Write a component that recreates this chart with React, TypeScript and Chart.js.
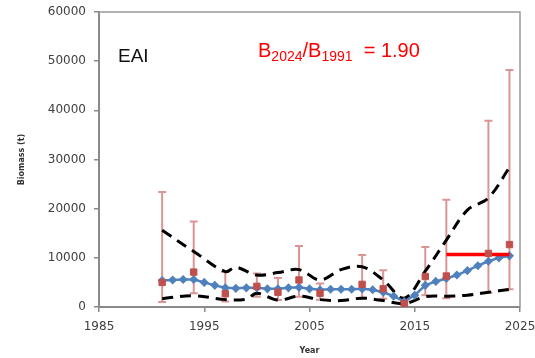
import { useEffect, useRef } from "react";
import { Chart, registerables } from "chart.js";

Chart.register(...registerables);

// Model biomass trajectory (t), one estimate per year
const modelYears = [
  1991, 1992, 1993, 1994, 1995, 1996, 1997, 1998, 1999, 2000, 2001, 2002,
  2003, 2004, 2005, 2006, 2007, 2008, 2009, 2010, 2011, 2012, 2013, 2014,
  2015, 2016, 2017, 2018, 2019, 2020, 2021, 2022, 2023, 2024,
];
const modelBiomass = [
  5400, 5500, 5600, 5600, 5000, 4400, 3900, 3800, 3900, 3900, 3700, 3700,
  3900, 4000, 3700, 3500, 3600, 3600, 3600, 3700, 3500, 3000, 2200, 1100,
  2400, 4400, 5200, 5800, 6500, 7400, 8400, 9300, 10000, 10400,
];

// Confidence bounds around the model trajectory
const upperYears = [1991, 1994, 1997, 1998, 2000, 2002, 2004, 2006, 2008, 2010, 2012, 2014, 2016, 2018, 2020, 2022, 2024];
const upperBiomass = [15600, 11300, 7200, 8100, 6500, 7000, 7600, 5500, 7600, 8200, 5500, 1800, 7300, 13600, 19700, 22200, 28400];
const lowerYears = [1991, 1994, 1997, 1999, 2000, 2002, 2004, 2006, 2008, 2010, 2012, 2014, 2016, 2018, 2020, 2022, 2024];
const lowerBiomass = [1700, 2300, 1500, 1600, 2800, 1400, 2200, 1500, 1300, 1800, 1300, 700, 2100, 2200, 2400, 3000, 3600];

// Survey biomass index with error bars
const surveyYears = [1991, 1994, 1997, 2000, 2002, 2004, 2006, 2010, 2012, 2014, 2016, 2018, 2022, 2024];
const surveyBiomass = [5000, 7100, 2700, 4200, 3000, 5500, 2800, 4600, 3700, 750, 6200, 6300, 10900, 12700];
const surveyLow = [1000, 2800, 1100, 2100, 1400, 2100, 1500, 1900, 1700, 500, 2400, 1800, 2900, 3600];
const surveyHigh = [23400, 17400, 7100, 6800, 5900, 12400, 4800, 10600, 7500, 1000, 12200, 21800, 37900, 48200];

// Recent survey mean
const recentYears = [2018, 2024];
const recentMean = 10700;

const areaLabel = "EAI";
const ratioParts = ["B", "2024", "/B", "1991", "  = 1.90"];

const xMin = 1985;
const xMax = 2025;
const xStep = 10;
const yMin = 0;
const yMax = 60000;
const yStep = 10000;

const errorBars = {
  id: "errorBars",
  beforeDatasetsDraw(chart: any) {
    const { ctx, scales } = chart;
    const x = scales.x;
    const y = scales.y;
    ctx.save();
    ctx.strokeStyle = "#d99694";
    ctx.lineWidth = 2;
    surveyYears.forEach((yr, i) => {
      const px = x.getPixelForValue(yr);
      const top = y.getPixelForValue(surveyHigh[i]);
      const bot = y.getPixelForValue(surveyLow[i]);
      ctx.beginPath();
      ctx.moveTo(px, top);
      ctx.lineTo(px, bot);
      ctx.moveTo(px - 4, top);
      ctx.lineTo(px + 4, top);
      ctx.moveTo(px - 4, bot);
      ctx.lineTo(px + 4, bot);
      ctx.stroke();
    });
    ctx.restore();
  },
};

const frameAndLabels = {
  id: "frameAndLabels",
  afterDraw(chart: any) {
    const { ctx, chartArea } = chart;
    ctx.save();
    // top and right edges of the plot box
    ctx.strokeStyle = "#9a9a9a";
    ctx.lineWidth = 1.5;
    ctx.beginPath();
    ctx.moveTo(chartArea.left, chartArea.top);
    ctx.lineTo(chartArea.right, chartArea.top);
    ctx.lineTo(chartArea.right, chartArea.bottom);
    ctx.stroke();

    // stock area label
    ctx.fillStyle = "#111111";
    ctx.font = "19px 'Liberation Sans', Arial, sans-serif";
    ctx.textBaseline = "alphabetic";
    ctx.textAlign = "left";
    ctx.fillText(areaLabel, chartArea.left + 19, 62);

    // biomass ratio with subscripts
    ctx.fillStyle = "#ff0000";
    let cx = chartArea.left + 159;
    ratioParts.forEach((part, i) => {
      const sub = i % 2 === 1;
      ctx.font = sub
        ? "14px 'Liberation Sans', Arial, sans-serif"
        : "20px 'Liberation Sans', Arial, sans-serif";
      ctx.fillText(part, cx, sub ? 61 : 57);
      cx += ctx.measureText(part).width;
    });
    ctx.restore();
  },
};

export default function App() {
  const canvasRef = useRef<HTMLCanvasElement | null>(null);

  useEffect(() => {
    const canvas = canvasRef.current;
    if (!canvas) return;

    const chart = new Chart(canvas, {
      type: "line",
      data: {
        datasets: [
          {
            label: "Survey",
            data: surveyYears.map((yr, i) => ({ x: yr, y: surveyBiomass[i] })),
            showLine: false,
            pointStyle: "rect",
            pointRadius: 4.5,
            pointBackgroundColor: "#c0504d",
            pointBorderColor: "#c0504d",
            borderColor: "#c0504d",
            order: 0,
          },
          {
            label: "Recent mean",
            data: recentYears.map((yr) => ({ x: yr, y: recentMean })),
            borderColor: "#ff0000",
            borderWidth: 3.5,
            pointRadius: 0,
            order: 1,
          },
          {
            label: "Model",
            data: modelYears.map((yr, i) => ({ x: yr, y: modelBiomass[i] })),
            borderColor: "#4f81bd",
            borderWidth: 2.5,
            pointStyle: "rectRot",
            pointRadius: 2.8,
            pointBackgroundColor: "#4f81bd",
            pointBorderColor: "#4f81bd",
            order: 2,
          },
          {
            label: "Upper",
            data: upperYears.map((yr, i) => ({ x: yr, y: upperBiomass[i] })),
            borderColor: "#000000",
            borderWidth: 3,
            borderDash: [11, 7],
            pointRadius: 0,
            tension: 0.35,
            order: 3,
          },
          {
            label: "Lower",
            data: lowerYears.map((yr, i) => ({ x: yr, y: lowerBiomass[i] })),
            borderColor: "#000000",
            borderWidth: 3,
            borderDash: [11, 7],
            pointRadius: 0,
            tension: 0.35,
            order: 4,
          },
        ],
      },
      options: {
        animation: false,
        responsive: false,
        layout: { padding: { top: 12, right: 15, bottom: 0, left: 0 } },
        plugins: {
          legend: { display: false },
          tooltip: { enabled: false },
        },
        scales: {
          x: {
            type: "linear",
            min: xMin,
            max: xMax,
            afterFit(scale: any) {
              scale.height = 51;
              scale.paddingLeft = 0;
              scale.paddingRight = 0;
              scale.paddingTop = 0;
              scale.paddingBottom = 0;
            },
            ticks: {
              stepSize: xStep,
              padding: 8,
              color: "#404040",
              font: { family: "'DejaVu Sans', Verdana, sans-serif", size: 12 },
              callback: (v: any) => String(v),
              maxRotation: 0,
            },
            grid: {
              drawOnChartArea: false,
              drawTicks: true,
              tickLength: 5,
              color: "#8a8a8a",
              lineWidth: 1.5,
            },
            border: { display: true, color: "#8a8a8a", width: 2 },
            title: {
              display: true,
              text: "Year",
              color: "#333333",
              font: { family: "'DejaVu Sans', Verdana, sans-serif", size: 8, weight: "bold" },
              padding: { top: 0, bottom: 2 },
            },
          },
          y: {
            type: "linear",
            min: yMin,
            max: yMax,
            afterFit(scale: any) {
              scale.width = 99;
              scale.paddingLeft = 0;
              scale.paddingRight = 0;
              scale.paddingTop = 0;
              scale.paddingBottom = 0;
            },
            ticks: {
              stepSize: yStep,
              padding: 8,
              color: "#404040",
              font: { family: "'DejaVu Sans', Verdana, sans-serif", size: 12 },
              callback: (v: any) => String(v),
            },
            grid: {
              drawOnChartArea: false,
              drawTicks: true,
              tickLength: 5,
              color: "#8a8a8a",
              lineWidth: 1.5,
            },
            border: { display: true, color: "#8a8a8a", width: 2 },
            title: {
              display: true,
              text: "Biomass (t)",
              color: "#333333",
              font: { family: "'DejaVu Sans', Verdana, sans-serif", size: 8, weight: "bold" },
              padding: { top: 17, bottom: 0 },
            },
          },
        },
      },
      plugins: [errorBars, frameAndLabels],
    });

    return () => chart.destroy();
  }, []);

  return (
    <div style={{ position: "absolute", left: 0, top: 0, width: 535, height: 358, background: "#ffffff" }}>
      <canvas ref={canvasRef} width={535} height={358} style={{ display: "block" }} />
    </div>
  );
}
